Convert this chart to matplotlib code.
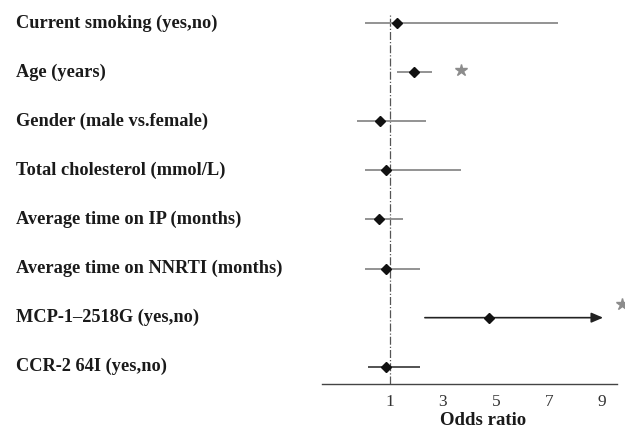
import matplotlib
matplotlib.use("Agg")
import matplotlib.pyplot as plt
from matplotlib.transforms import blended_transform_factory

# Odds ratios with 95% confidence limits
variables = [
    "Current smoking (yes,no)",
    "Age (years)",
    "Gender (male vs.female)",
    "Total cholesterol (mmol/L)",
    "Average time on IP (months)",
    "Average time on NNRTI (months)",
    "MCP-1\u20132518G (yes,no)",
    "CCR-2 64I (yes,no)",
]
odds_ratio = [1.27, 1.91, 0.62, 0.85, 0.60, 0.85, 4.73, 0.84]
ci_lower = [0.05, 1.25, -0.25, 0.05, 0.05, 0.05, 2.32, 0.18]
ci_upper = [7.35, 2.59, 2.38, 3.67, 1.50, 2.13, 9.05, 2.13]
truncated = [False, False, False, False, False, False, True, False]
significant = [False, True, False, False, False, False, True, False]
tick_values = [1, 3, 5, 7, 9]

serif = ["Liberation Serif", "DejaVu Serif"]

fig = plt.figure(figsize=(6.25, 4.29), dpi=100)
ax = fig.add_axes([0.515, 0.105, 0.472, 0.895])

line_colors = ["#8a8a8a"] * 6 + ["#333333", "#444444"]

for i, (name, orv, lo, hi) in enumerate(zip(variables, odds_ratio, ci_lower, ci_upper)):
    if truncated[i]:
        ax.annotate("", xy=(hi, i), xytext=(lo, i),
                    arrowprops=dict(arrowstyle="-|>,head_length=0.7,head_width=0.3",
                                    color="#222222", lw=1.2, shrinkA=0, shrinkB=0))
    else:
        ax.hlines(i, lo, hi, color=line_colors[i], lw=1.3, zorder=2)
    ax.plot(orv, i, marker="D", ms=5.5, color="#111111", zorder=3)

# significance stars: next to the interval, or past the axis end for the arrowed row
for i, sig in enumerate(significant):
    if not sig:
        continue
    if truncated[i]:
        sx, sy = ci_upper[i] + 0.73, i - 0.28
    else:
        sx, sy = ci_upper[i] + 1.08, i - 0.04
    ax.plot(sx, sy, marker="*", ms=9, color="#8c8c8c", mec="#8c8c8c",
            clip_on=False, zorder=3)

# row labels on the left of the figure
trans = blended_transform_factory(fig.transFigure, ax.transData)
for i, name in enumerate(variables):
    ax.text(0.026, i, name, transform=trans, ha="left", va="center",
            fontsize=13.2, fontweight="bold", family=serif, color="#1a1a1a", clip_on=False)

# reference line at OR = 1
ax.axvline(1, ymin=0, ymax=0.965, color="#555555", lw=0.9, ls="-.", zorder=1)

ax.set_xlim(-1.57, 9.57)
ax.set_ylim(7.35, -0.47)
ax.set_xticks(tick_values)
ax.set_xticklabels([str(t) for t in tick_values], family=serif, fontsize=12.5, color="#333333")
ax.tick_params(axis="x", length=0, pad=7)
ax.set_yticks([])
for s in ["top", "right", "left"]:
    ax.spines[s].set_visible(False)
ax.spines["bottom"].set_color("#444444")
ax.spines["bottom"].set_linewidth(1.0)
ax.set_xlabel("Odds ratio", family=serif, fontsize=13.5, fontweight="bold",
              color="#1a1a1a")
ax.xaxis.set_label_coords(0.545, -0.073)

fig.savefig("out.png", dpi=100)
